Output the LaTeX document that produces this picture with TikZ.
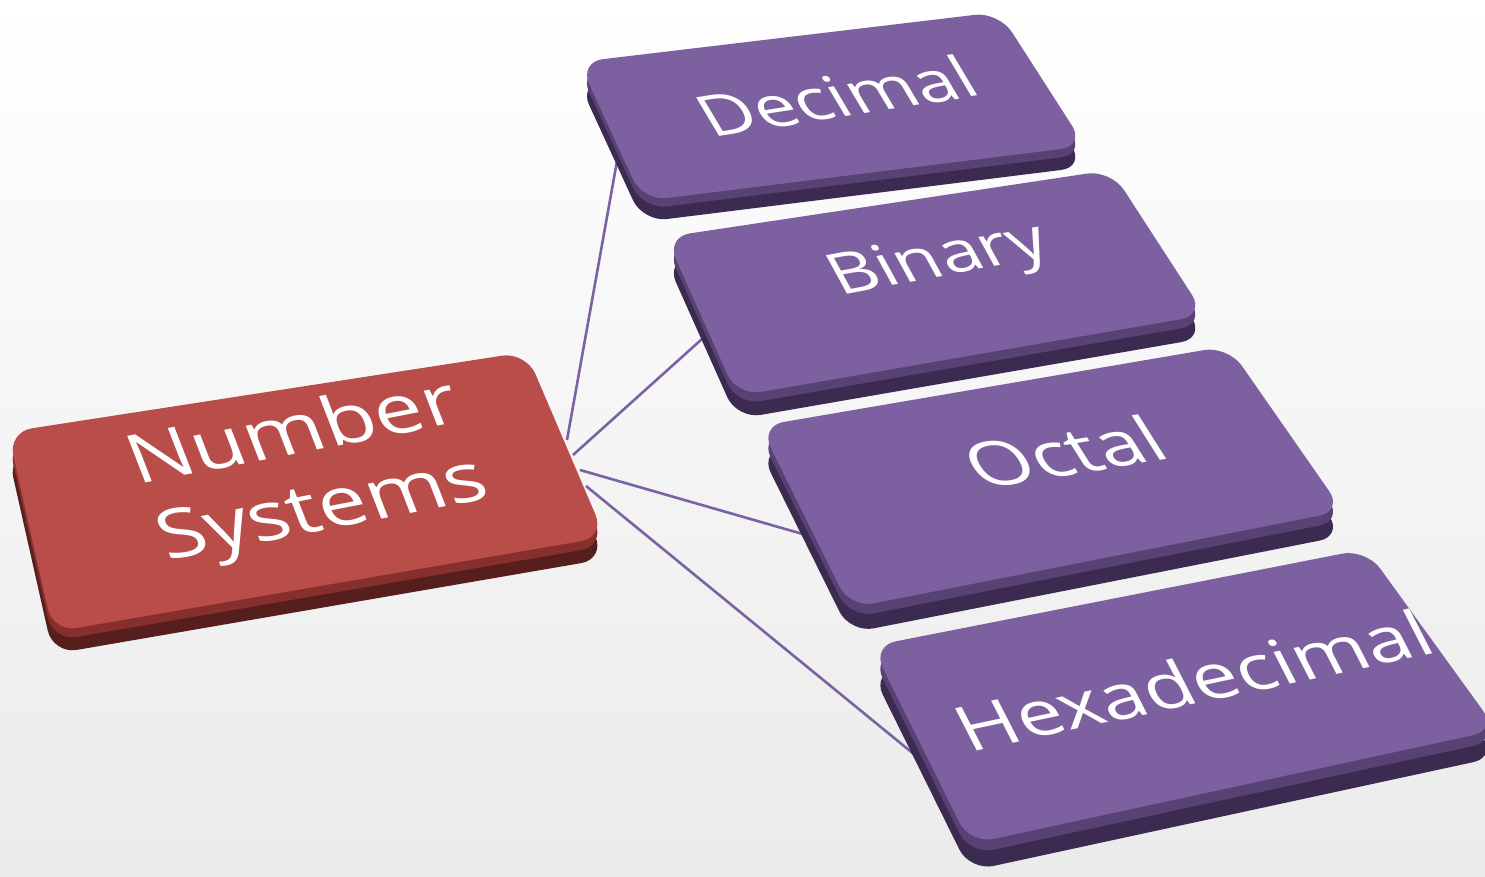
\documentclass[tikz,border=0pt]{standalone}
\usepackage{fontspec}
\setmainfont{Open Sans}
\usepackage{tikz}

\definecolor{keytop}{HTML}{7D60A0}
\definecolor{keymid}{HTML}{574273}
\definecolor{keyside}{HTML}{3B2B50}
\definecolor{roottop}{HTML}{B94D4A}
\definecolor{rootmid}{HTML}{862F2D}
\definecolor{rootside}{HTML}{561F1E}
\definecolor{linkcol}{HTML}{7B62A3}

\begin{document}
\begin{tikzpicture}[x=1pt,y=-1pt,
  link/.style={draw=linkcol,line width=2.6pt},
  keylabel/.style={text=white,inner sep=0pt,align=center}]
\shade[top color=white,bottom color=gray!16] (0,0) rectangle (1485,877);
\useasboundingbox (0,0) rectangle (1485,877);

\coordinate (ns-a) at (567,440);
\coordinate (ns-b) at (573,455);
\coordinate (ns-c) at (580,470);
\coordinate (ns-d) at (586,486);
\coordinate (dec-in) at (619,150);
\coordinate (bin-in) at (712,330);
\coordinate (oct-in) at (820,539);
\coordinate (hex-in) at (937,773);
\draw[link] (ns-a) -- (dec-in);
\draw[link] (ns-b) -- (bin-in);
\draw[link] (ns-c) -- (oct-in);
\draw[link] (ns-d) -- (hex-in);

\fill[rootside,rounded corners=24pt] (8,454) -- (526,374) -- (605,559) -- (53,654) -- cycle;
\fill[rootmid,rounded corners=24pt] (8,441) -- (526,361) -- (605,546) -- (53,641) -- cycle;
\fill[roottop,rounded corners=24pt] (8,432) -- (526,352) -- (605,537) -- (53,632) -- cycle;

\foreach \ax/\ay/\bx/\by/\cx/\cy/\dx/\dy/\t in
  {579/62/999/12/1085/146/643/201/21,
   666/237/1111/170/1205/315/737/396/23,
   760/426/1228/346/1343/511/850/608/25,
   872/646/1366/549/1497/730/970/844/27}
{
  \fill[keyside,rounded corners=24pt] (\ax,\ay+\t) -- (\bx,\by+\t) -- (\cx,\cy+\t) -- (\dx,\dy+\t) -- cycle;
  \fill[keymid,rounded corners=24pt] (\ax,\ay+0.4*\t) -- (\bx,\by+0.4*\t) -- (\cx,\cy+0.4*\t) -- (\dx,\dy+0.4*\t) -- cycle;
  \fill[keytop,rounded corners=24pt] (\ax,\ay) -- (\bx,\by) -- (\cx,\cy) -- (\dx,\dy) -- cycle;
}

\node[keylabel,font=\fontsize{86}{100}\selectfont,rotate=11,xslant=-0.18,yscale=0.8] (numsys) at (309,474) {Number\\Systems};
\node[keylabel,font=\fontsize{73}{80}\selectfont,rotate=9,xslant=-0.4,yscale=0.8] (decimal) at (836,96) {Decimal};
\node[keylabel,font=\fontsize{73}{80}\selectfont,rotate=10.5,xslant=-0.33,yscale=0.8] (binary) at (940,262) {Binary};
\node[keylabel,font=\fontsize{80}{90}\selectfont,rotate=9.5,xslant=-0.42,yscale=0.8] (octal) at (1064,452) {Octal};
\node[keylabel,font=\fontsize{80}{90}\selectfont,rotate=12,xslant=-0.27,yscale=0.8] (hexa) at (1193,680) {Hexadecimal};
\end{tikzpicture}
\end{document}
